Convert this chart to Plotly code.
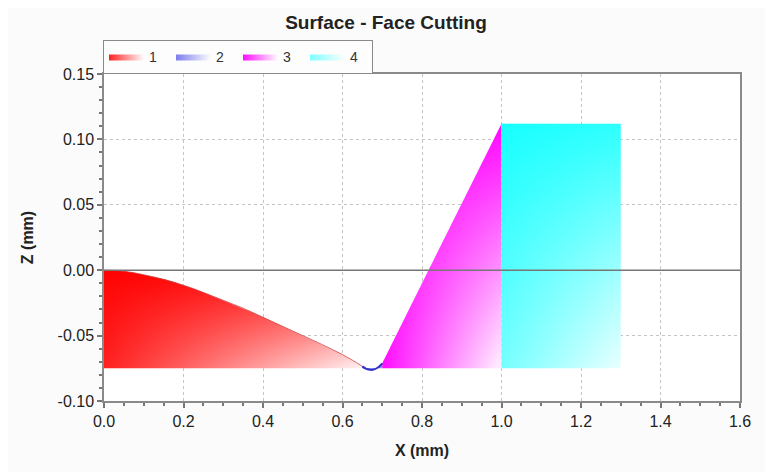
import plotly.graph_objects as go

# ---------------- data ----------------
base_z = -0.075          # bottom of the cut regions (mm)
zero_level = 0.0

# region 1: surface profile
x1 = [0.0, 0.025, 0.05, 0.075, 0.10, 0.125, 0.15, 0.175, 0.20, 0.225, 0.25, 0.275, 0.30,
      0.325, 0.35, 0.375, 0.40, 0.425, 0.45, 0.475, 0.50, 0.525, 0.55, 0.575, 0.60, 0.625, 0.65]
z1 = [0.0, -0.0002, -0.0008, -0.0019, -0.0035, -0.0051, -0.0070, -0.0091, -0.0115, -0.0141,
      -0.0170, -0.0200, -0.0230, -0.0260, -0.0290, -0.0325, -0.0360, -0.0395, -0.0430,
      -0.0465, -0.0500, -0.0535, -0.0570, -0.0607, -0.0645, -0.0688, -0.0735]
# region 2: tool nose arc
x2 = [0.65, 0.66, 0.67, 0.68, 0.69, 0.70]
z2 = [-0.0735, -0.0755, -0.0762, -0.0758, -0.0742, -0.0712]
# region 3: flank
x3 = [0.70, 1.0]
z3 = [-0.0712, 0.112]
# region 4: block
x4 = [1.0, 1.3]
z4_top = 0.112

names = ["1", "2", "3", "4"]
rgb = {"1": (255, 0, 0), "2": (40, 40, 230), "3": (255, 0, 255), "4": (0, 255, 255)}

# y tick labels
y_tickvals = [0.15, 0.10, 0.05, 0.0, -0.05, -0.10]
y_ticktext = ["0.15", "0.10", "0.05", "0.00", "-0.05", "-0.10"]

# gradient parameters: (white at top, white at bottom, alpha of colour overlay at left)
grad = {
    "1": (0.06, 0.95, 0.87),
    "2": (0.30, 0.60, 0.60),
    "3": (0.02, 0.95, 0.95),
    "4": (0.18, 0.92, 0.50),
}


def mix(c, w):
    r, g, b = c
    return "rgb(%d,%d,%d)" % (r + (255 - r) * w, g + (255 - g) * w, b + (255 - b) * w)


def rgba(c, a):
    return "rgba(%d,%d,%d,%.3f)" % (c[0], c[1], c[2], a)


def region(xs, zs):
    """closed polygon of a profile down to the base level"""
    return list(xs) + [xs[-1], xs[0]], list(zs) + [base_z, base_z]


regions = {
    "1": region(x1, z1),
    "2": region(x2, z2),
    "3": region(x3, z3),
    "4": region(x4, [z4_top, z4_top]),
}

fig = go.Figure()

for n in names:
    px, pz = regions[n]
    c = rgb[n]
    wt, wb, a0 = grad[n]
    zmin, zmax = min(pz), max(pz)
    xmin, xmax = min(px), max(px)
    # vertical base gradient (colour at top -> white at bottom)
    fig.add_trace(go.Scatter(
        x=px, y=pz, mode="lines", fill="toself", line=dict(width=0),
        fillgradient=dict(type="vertical", start=zmin, stop=zmax,
                          colorscale=[[0, mix(c, wb)], [1, mix(c, wt)]]),
        showlegend=False, hoverinfo="skip"))
    # horizontal colour overlay (strong on the left -> transparent on the right)
    fig.add_trace(go.Scatter(
        x=px, y=pz, mode="lines", fill="toself", line=dict(width=0),
        fillgradient=dict(type="horizontal", start=xmin, stop=xmax,
                          colorscale=[[0, rgba(c, a0)], [1, rgba(c, 0.0)]]),
        name=n, showlegend=True, hoverinfo="skip"))

# edge lines
fig.add_trace(go.Scatter(x=x1, y=z1, mode="lines",
                         line=dict(color="rgba(200,60,60,0.75)", width=1, shape="spline"),
                         showlegend=False, hoverinfo="skip"))
fig.add_trace(go.Scatter(x=x2, y=z2, mode="lines",
                         line=dict(color="rgb(50,50,200)", width=2, shape="spline"),
                         showlegend=False, hoverinfo="skip"))

fig.add_shape(type="line", xref="paper", x0=0, x1=1, yref="y", y0=zero_level, y1=zero_level,
              line=dict(color="#777777", width=1.6), layer="above")

font_family = "Liberation Sans, Arial, sans-serif"
tick_font = dict(family=font_family, size=16, color="#222222")

common = dict(showline=True, linecolor="#8a8a8a", linewidth=1.5, zeroline=False,
              automargin=False)


def inner(side, rng, dt, mdt, over, anch):
    return dict(overlaying=over, anchor=anch, side=side, range=rng, dtick=dt, tick0=0,
                showticklabels=False, showgrid=False, zeroline=False, showline=False,
                automargin=False,
                ticks="inside", ticklen=5, tickwidth=1.5, tickcolor="#777777",
                minor=dict(dtick=mdt, ticks="inside", ticklen=3, tickcolor="#777777"))


# the page body has an 8px default margin, margins below compensate for it
fig.update_layout(
    width=773, height=472,
    margin=dict(l=96, r=41, t=65, b=79),
    paper_bgcolor="#fbfbfb", plot_bgcolor="white",
    title=dict(text="<b>Surface - Face Cutting</b>", x=(386 - 8) / 773, xanchor="center",
               y=1 - 14 / 472, yanchor="middle",
               font=dict(family=font_family, size=19, color="#222222")),
    showlegend=True,
    legend=dict(orientation="h", xref="container", yref="container",
                x=(103 - 8) / 773, xanchor="left", y=1 - 32 / 472, yanchor="top",
                bordercolor="#8a8a8a", borderwidth=1, bgcolor="#fdfdfd",
                font=dict(family=font_family, size=14, color="#333333"),
                entrywidth=17, entrywidthmode="pixels", tracegroupgap=0,
                itemwidth=35),
    xaxis=dict(range=[0, 1.6], dtick=0.2, tick0=0, tickformat=".1f",
               showgrid=True, gridcolor="#c4c4c4", griddash="dot", gridwidth=1,
               ticks="outside", ticklen=5, tickwidth=1.5, tickcolor="#777777",
               minor=dict(dtick=0.05, ticks="outside", ticklen=3, tickcolor="#777777",
                          showgrid=False),
               mirror=True, tickfont=tick_font,
               title=dict(text="<b>X (mm)</b>", standoff=16,
                          font=dict(family=font_family, size=16, color="#222222")),
               **common),
    yaxis=dict(range=[-0.10, 0.15], tickvals=y_tickvals, ticktext=y_ticktext,
               showgrid=True, gridcolor="#c4c4c4", griddash="dot", gridwidth=1,
               ticks="outside", ticklen=5, tickwidth=1.5, tickcolor="#777777",
               minor=dict(dtick=0.01, tick0=0, ticks="outside", ticklen=3, tickcolor="#777777",
                          showgrid=False),
               mirror=True, tickfont=tick_font,
               title=dict(text="<b>Z (mm)</b>", standoff=20,
                          font=dict(family=font_family, size=16, color="#222222")),
               **common),
    xaxis2=inner("bottom", [0, 1.6], 0.2, 0.05, "x", "y"),
    xaxis3=inner("top", [0, 1.6], 0.2, 0.05, "x", "y"),
    yaxis2=inner("left", [-0.10, 0.15], 0.05, 0.01, "y", "x"),
    yaxis3=inner("right", [-0.10, 0.15], 0.05, 0.01, "y", "x"),
)

fig.write_html("out.html")
